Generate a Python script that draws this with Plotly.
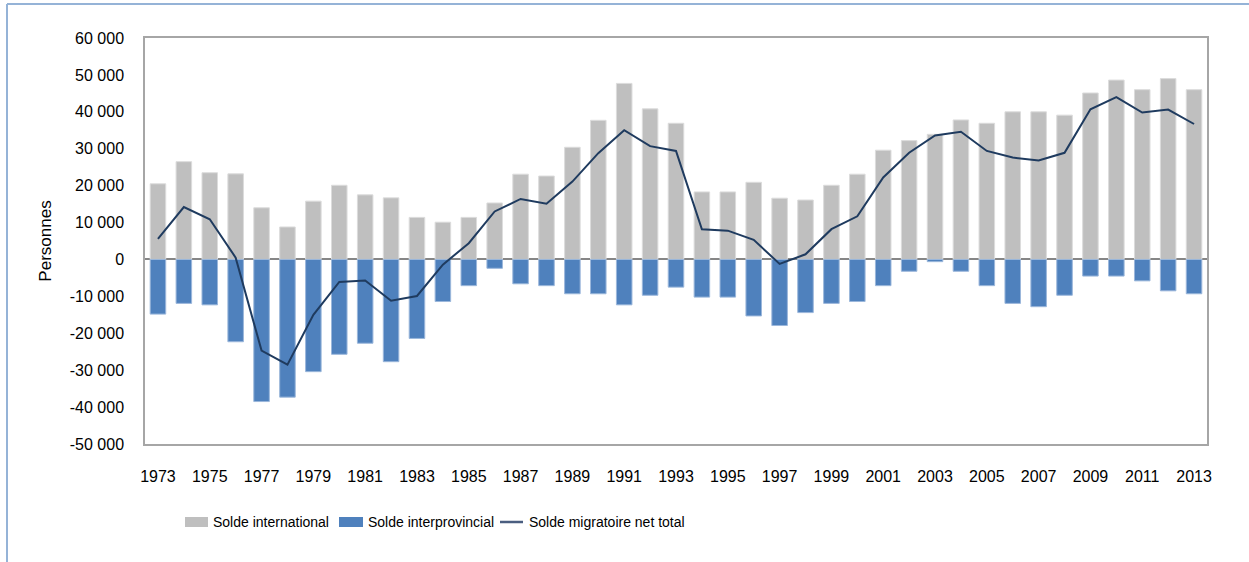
import plotly.graph_objects as go

years = list(range(1973, 2014))

solde_international = [
    20500, 26500, 23500, 23200, 14000, 8800, 15800, 20100, 17500, 16700,
    11400, 10100, 11400, 15300, 23100, 22600, 30400, 37700, 47700, 40800,
    36900, 18300, 18300, 20900, 16600, 16100, 20100, 23100, 29600, 32200,
    33900, 37800, 36900, 40000, 40000, 39100, 45100, 48600, 46000, 49000,
    46000,
]

solde_interprovincial = [
    -14800, -11900, -12300, -22300, -38500, -37300, -30400, -25700, -22700, -27700,
    -21400, -11400, -7100, -2400, -6600, -7100, -9300, -9300, -12300, -9700,
    -7500, -10200, -10200, -15300, -17900, -14400, -11900, -11400, -7100, -3200,
    -600, -3200, -7100, -11900, -12800, -9700, -4500, -4500, -5800, -8500,
    -9300,
]

solde_net_total = [
    5600, 14200, 10900, 500, -24700, -28500, -15000, -6100, -5700, -11200,
    -9900, -1400, 4400, 13000, 16400, 15100, 21100, 28800, 35000, 30700,
    29400, 8200, 7800, 5300, -1200, 1400, 8200, 11700, 22200, 28900,
    33600, 34600, 29400, 27600, 26800, 28900, 40700, 44000, 39800, 40600,
    36700,
]

y_ticks = list(range(-50000, 60001, 10000))
y_tick_labels = [f"{v:,}".replace(",", " ") for v in y_ticks]
x_ticks = list(range(1973, 2014, 2))

series_names = ["Solde international", "Solde interprovincial", "Solde migratoire net total"]

GRAY = "#BFBFBF"
BLUE = "#4F81BD"
NAVY = "#1F3B5F"
FONT = "Liberation Sans, Arial, sans-serif"

fig = go.Figure()
fig.add_trace(go.Bar(x=years, y=solde_international, name=series_names[0],
                     marker=dict(color=GRAY, line=dict(color="#DCDCDC", width=1))))
fig.add_trace(go.Bar(x=years, y=solde_interprovincial, name=series_names[1],
                     marker=dict(color=BLUE, line=dict(color="#9BB7DB", width=1))))
fig.add_trace(go.Scatter(x=years, y=solde_net_total, name=series_names[2], mode="lines",
                         line=dict(color=NAVY, width=2)))

W, H = 1249, 562
L, R, T, B = 145, 42, 38, 118
pw, ph = W - L - R, H - T - B

def xp(px):
    return (px - L) / pw

def yp(py):
    return (H - B - py) / ph

shapes = [
    # outer light blue border (top and left)
    dict(type="line", xref="paper", yref="paper", x0=xp(7), x1=xp(1249), y0=yp(4), y1=yp(4),
         line=dict(color="#95B3D7", width=2), layer="above"),
    dict(type="line", xref="paper", yref="paper", x0=xp(7), x1=xp(7), y0=yp(4), y1=yp(562),
         line=dict(color="#95B3D7", width=2), layer="above"),
    # legend swatches
    dict(type="rect", xref="paper", yref="paper", x0=xp(185), x1=xp(208), y0=yp(527), y1=yp(517),
         fillcolor=GRAY, line=dict(width=0)),
    dict(type="rect", xref="paper", yref="paper", x0=xp(339), x1=xp(363), y0=yp(527), y1=yp(517),
         fillcolor=BLUE, line=dict(width=0)),
    dict(type="line", xref="paper", yref="paper", x0=xp(500), x1=xp(523), y0=yp(522), y1=yp(522),
         line=dict(color="#4A5E80", width=2.5)),
]

annotations = []
for name, px in zip(series_names, [211, 366, 527]):
    annotations.append(dict(text=name, xref="paper", yref="paper", x=xp(px), y=yp(522),
                            xanchor="left", yanchor="middle", showarrow=False,
                            font=dict(family=FONT, size=14, color="#000000")))

fig.update_layout(
    width=W, height=H,
    margin=dict(l=L, r=R, t=T, b=B, autoexpand=False),
    paper_bgcolor="white", plot_bgcolor="white",
    barmode="overlay", bargap=0.4,
    showlegend=False,
    font=dict(family=FONT, size=16, color="#000000"),
    shapes=shapes, annotations=annotations,
)

fig.update_xaxes(
    range=[1972.5, 2013.5], tickvals=x_ticks, ticktext=[str(v) for v in x_ticks],
    showgrid=False, zeroline=False,
    showline=True, linecolor="#A6A6A6", linewidth=1.5, mirror=True,
    ticks="outside", ticklen=17, tickcolor="rgba(0,0,0,0)",
    tickfont=dict(family=FONT, size=16),
)
fig.update_yaxes(
    range=[-50000, 60000], tickvals=y_ticks, ticktext=y_tick_labels,
    showgrid=False, zeroline=True, zerolinecolor="#868686", zerolinewidth=1.5,
    showline=True, linecolor="#A6A6A6", linewidth=1.5, mirror=True,
    ticks="outside", ticklen=16, tickcolor="rgba(0,0,0,0)",
    tickfont=dict(family=FONT, size=16),
    title=dict(text="Personnes", font=dict(family=FONT, size=17), standoff=14),
)

fig.write_html("out.html", config={"displayModeBar": False},
               post_script="document.body.style.margin='0';")
